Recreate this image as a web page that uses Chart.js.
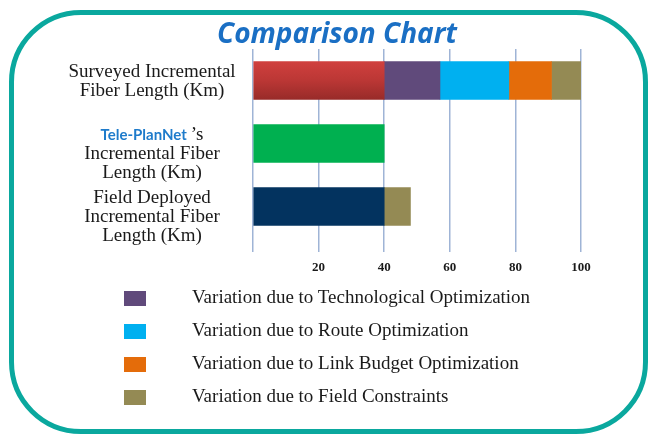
<!DOCTYPE html>
<html>
<head>
<meta charset="utf-8">
<script src="https://cdn.jsdelivr.net/npm/chart.js@4/dist/chart.umd.min.js"></script>
<style>
    html, body { margin: 0; padding: 0; background: #fff; }
    #wrap { position: relative; width: 653px; height: 434px; overflow: hidden; }
    #frame {
        position: absolute; left: 9px; top: 10px; width: 629px; height: 414px;
        border: 5px solid #0aa89e; border-radius: 72px;
    }
    #chart { position: absolute; left: 0; top: 0; }
    #legend { position: absolute; left: 0; top: 280px; margin: 0; padding: 0; list-style: none; }
    #legend li { height: 33px; display: flex; align-items: center; }
    #legend .box { width: 22px; height: 15px; margin-left: 124px; margin-top: 3px; }
    #legend .txt { margin-left: 46px; font: 19px "Liberation Serif", serif; color: #1a1a1a; }
</style>
</head>
<body>
<div id="wrap">
    <div id="frame"></div>
    <canvas id="chart" width="653" height="434"></canvas>
    <ul id="legend"></ul>
</div>
<script>
// categories (one line per entry, drawn by the label plugin)
var categoryLines = [
    ['Surveyed Incremental', 'Fiber Length (Km)'],
    ['Tele-PlanNet\u2019s', 'Incremental Fiber', 'Length (Km)'],
    ['Field Deployed', 'Incremental Fiber', 'Length (Km)']
];
var categories = categoryLines.map(function(l) { return l.join(' '); });

// series values (Km)
var surveyedBase = [40, null, null];
var planNetLength = [null, 40, null];
var fieldDeployedBase = [null, null, 40];
var techVariation = [17, null, null];
var routeVariation = [21, null, null];
var linkBudgetVariation = [13, null, null];
var fieldConstraintVariation = [9, null, 8];

var legendNames = [
    'Variation due to Technological Optimization',
    'Variation due to Route Optimization',
    'Variation due to Link Budget Optimization',
    'Variation due to Field Constraints'
];

var xMax = 100;
var xStep = 20;

// red bar has a top-to-bottom shade
function redShade(c) {
    var chart = c.chart;
    if (!chart.chartArea) return '#b83634';
    var y = chart.scales.y.getPixelForValue(0);
    var g = chart.ctx.createLinearGradient(0, y - 19, 0, y + 19);
    g.addColorStop(0, '#d0403e');
    g.addColorStop(0.5, '#bb3735');
    g.addColorStop(1, '#982b29');
    return g;
}

var labelFont = '19px "Liberation Serif", serif';

// y labels: mixed styling on the Tele-PlanNet line, so drawn here
var yLabelPlugin = {
    id: 'yLabels',
    afterDraw: function(chart) {
        var ctx = chart.ctx;
        var ys = chart.scales.y;
        var cx = 152;
        ctx.save();
        ctx.textBaseline = 'middle';
        categoryLines.forEach(function(lines, i) {
            var top = ys.getPixelForValue(i) - 8;
            lines.forEach(function(line, j) {
                var y = top + j * 19;
                if (line.indexOf('Tele-PlanNet') === 0) {
                    var a = 'Tele-PlanNet', b = line.slice(a.length);
                    ctx.font = 'bold 15px Lato, sans-serif';
                    var wa = ctx.measureText(a).width;
                    ctx.font = labelFont;
                    var wb = ctx.measureText(b).width;
                    var x0 = cx - (wa + 4 + wb) / 2;
                    ctx.textAlign = 'left';
                    ctx.font = 'bold 15px Lato, sans-serif';
                    ctx.fillStyle = '#1e7bcb';
                    ctx.fillText(a, x0, y);
                    ctx.font = labelFont;
                    ctx.fillStyle = '#1a1a1a';
                    ctx.fillText(b, x0 + wa + 4, y);
                } else {
                    ctx.textAlign = 'center';
                    ctx.font = labelFont;
                    ctx.fillStyle = '#1a1a1a';
                    ctx.fillText(line, cx, y);
                }
            });
        });
        ctx.restore();
    }
};

var ctx = document.getElementById('chart').getContext('2d');
var myChart = new Chart(ctx, {
    type: 'bar',
    data: {
        labels: categories,
        datasets: [
            { label: 'Surveyed', data: surveyedBase, backgroundColor: redShade },
            { label: 'Tele-PlanNet', data: planNetLength, backgroundColor: '#00b050' },
            { label: 'Field Deployed', data: fieldDeployedBase, backgroundColor: '#03335f' },
            { label: legendNames[0], data: techVariation, backgroundColor: '#604a7b', inLegend: true },
            { label: legendNames[1], data: routeVariation, backgroundColor: '#00b0f0', inLegend: true },
            { label: legendNames[2], data: linkBudgetVariation, backgroundColor: '#e46c0a', inLegend: true },
            { label: legendNames[3], data: fieldConstraintVariation, backgroundColor: '#948a54', inLegend: true }
        ]
    },
    options: {
        indexAxis: 'y',
        responsive: false,
        animation: false,
        datasets: {
            bar: { barThickness: 38, borderWidth: 0 }
        },
        layout: { padding: { left: 93, right: 72, top: 0, bottom: 0 } },
        scales: {
            x: {
                stacked: true,
                min: 0,
                max: xMax,
                border: { display: false },
                grid: { color: '#9fb4d6', lineWidth: 1.5, tickLength: 14 },
                ticks: {
                    stepSize: xStep,
                    padding: 8,
                    color: '#1a1a1a',
                    font: { family: '"Liberation Serif", serif', size: 13, weight: 'bold' },
                    callback: function(v) { return v === 0 ? '' : v; }
                },
                afterFit: function(s) { s.height = 196; }
            },
            y: {
                stacked: true,
                border: { display: false },
                grid: { display: false },
                ticks: { display: false },
                afterFit: function(s) { s.width = 160; }
            }
        },
        plugins: {
            legend: { display: false },
            tooltip: { enabled: false },
            title: {
                display: true,
                text: 'Comparison Chart',
                color: '#1a6fc4',
                font: { family: '"Open Sans", sans-serif', size: 28, weight: 'bold', style: 'italic', lineHeight: 1 },
                padding: { top: 21, bottom: 0 }
            }
        }
    },
    plugins: [yLabelPlugin]
});

// Legend list built from the variation datasets
var legendEl = document.getElementById('legend');
myChart.data.datasets.forEach(function(ds) {
    if (!ds.inLegend) return;
    var li = document.createElement('li');
    li.innerHTML = '<span class="box" style="background:' + ds.backgroundColor + '"></span>' +
                   '<span class="txt">' + ds.label + '</span>';
    legendEl.appendChild(li);
});
</script>
</body>
</html>
